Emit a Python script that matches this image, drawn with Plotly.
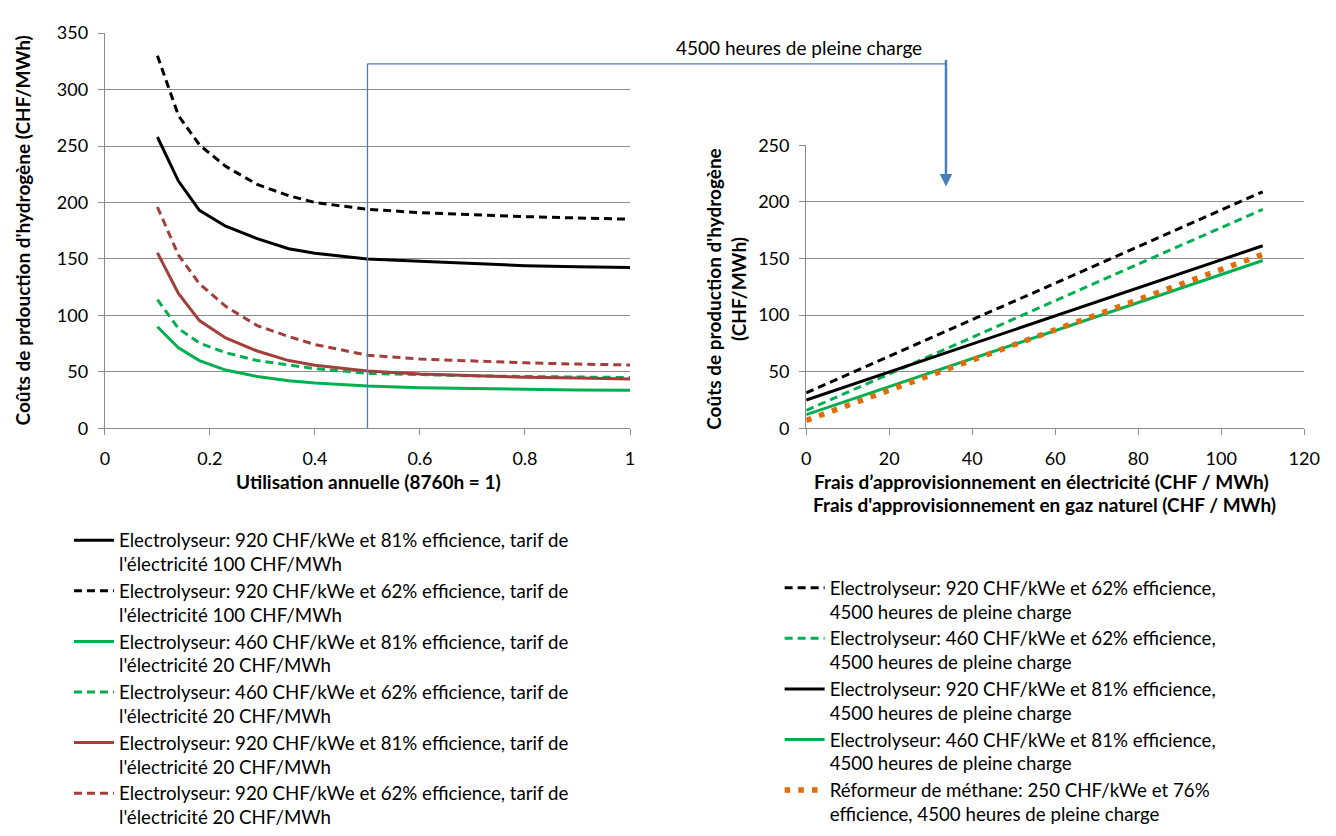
import plotly.graph_objects as go

# ---------------- data ----------------
# Left panel: annual utilisation (8760h = 1)
utilisation = [0.1, 0.14, 0.18, 0.23, 0.29, 0.35, 0.4, 0.5, 0.6, 0.7, 0.8, 0.9, 1.0]
el_920_81_100 = [258, 219, 193, 179, 168, 159, 155, 150, 148, 146, 144, 143, 142.5]
el_920_62_100 = [330, 277, 251, 232, 216, 206, 200, 194, 191, 189, 187.5, 186.3, 185.2]
el_460_81_20 = [90, 71.4, 60, 51.6, 46, 42.2, 40.2, 37.4, 36, 35.2, 34.6, 34, 33.7]
el_460_62_20 = [114, 88.4, 75.6, 67, 60, 55.8, 52.9, 48.7, 47.3, 46.5, 45.9, 45.3, 45]
el_920_81_20 = [155.5, 119.5, 95.4, 80, 68.5, 60, 55.8, 50.7, 48.2, 46.5, 45.3, 44.5, 43.6]
el_920_62_20 = [196, 153.5, 128, 108, 91, 81.3, 74.2, 64.8, 61.4, 59.5, 58, 56.9, 56.1]

left_names = [
    "Electrolyseur: 920 CHF/kWe et 81% efficience, tarif de<br>l'électricité 100 CHF/MWh",
    "Electrolyseur: 920 CHF/kWe et 62% efficience, tarif de<br>l'électricité 100 CHF/MWh",
    "Electrolyseur: 460 CHF/kWe et 81% efficience, tarif de<br>l'électricité 20 CHF/MWh",
    "Electrolyseur: 460 CHF/kWe et 62% efficience, tarif de<br>l'électricité 20 CHF/MWh",
    "Electrolyseur: 920 CHF/kWe et 81% efficience, tarif de<br>l'électricité 20 CHF/MWh",
    "Electrolyseur: 920 CHF/kWe et 62% efficience, tarif de<br>l'électricité 20 CHF/MWh",
]

# Right panel: supply cost (CHF / MWh)
supply_cost = [0, 110]
r_920_62 = [31.4, 209]
r_460_62 = [15.8, 193.5]
r_920_81 = [25, 161.3]
r_460_81 = [12.1, 148.3]
smr_250_76 = [7, 153.7]

right_names = [
    "Electrolyseur: 920 CHF/kWe et 62% efficience,<br>4500 heures de pleine charge",
    "Electrolyseur: 460 CHF/kWe et 62% efficience,<br>4500 heures de pleine charge",
    "Electrolyseur: 920 CHF/kWe et 81% efficience,<br>4500 heures de pleine charge",
    "Electrolyseur: 460 CHF/kWe et 81% efficience,<br>4500 heures de pleine charge",
    "Réformeur de méthane: 250 CHF/kWe et 76%<br>efficience, 4500 heures de pleine charge",
]

left_xticks = [0, 0.2, 0.4, 0.6, 0.8, 1]
left_xticktext = ["0", "0.2", "0.4", "0.6", "0.8", "1"]
marker_utilisation = 0.5

# ---------------- styling ----------------
W, H = 1336, 836
FONT = "Lato"
BLACK = "#000000"
GREEN = "#00B050"
RED = "#A23F3B"
ORANGE = "#E36C0A"
BLUE = "#4A7EBB"
GRID = "#8C8C8C"
DASH = "8px,5px"
LW = 3


def px_x(p):
    return p / W


def px_y(p):
    return 1 - p / H


def leg(t):
    return '<span style="font-size:18.7px">' + t + "</span>"


fig = go.Figure()

left_series = [
    (el_920_81_100, BLACK, "solid"),
    (el_920_62_100, BLACK, DASH),
    (el_460_81_20, GREEN, "solid"),
    (el_460_62_20, GREEN, DASH),
    (el_920_81_20, RED, "solid"),
    (el_920_62_20, RED, DASH),
]
for (vals, col, dash), name in zip(left_series, left_names):
    fig.add_trace(go.Scatter(
        x=utilisation, y=vals, mode="lines", name=leg(name),
        line=dict(color=col, width=LW, dash=dash),
        xaxis="x", yaxis="y", legend="legend",
    ))

right_series = [
    (r_920_62, BLACK, DASH, LW),
    (r_460_62, GREEN, DASH, LW),
    (r_920_81, BLACK, "solid", LW),
    (r_460_81, GREEN, "solid", LW),
    (smr_250_76, ORANGE, "5.5px,8.2px", 5.5),
]
for (vals, col, dash, w), name in zip(right_series, right_names):
    fig.add_trace(go.Scatter(
        x=supply_cost, y=vals, mode="lines", name=leg(name),
        line=dict(color=col, width=w, dash=dash),
        xaxis="x2", yaxis="y2", legend="legend2",
    ))

L_X0, L_X1 = 101.5, 635
R_X0, R_X1 = 814, 1320
Y_BOT, L_YTOP, R_YTOP = 434, 22, 139

axis_common = dict(
    showline=True, linecolor=GRID, linewidth=1.3,
    ticks="outside", ticklen=6, tickcolor=GRID, tickwidth=1.3,
    tickfont=dict(family=FONT, size=18, color=BLACK),
    zeroline=False, fixedrange=True,
)

fig.update_layout(
    width=W, height=H,
    margin=dict(l=0, r=0, t=0, b=0),
    paper_bgcolor="white", plot_bgcolor="white",
    font=dict(family=FONT, color=BLACK),
    xaxis=dict(domain=[px_x(L_X0), px_x(L_X1)], range=[0, 1],
               tickvals=left_xticks, ticktext=left_xticktext,
               showgrid=False, anchor="y", ticklabelstandoff=8, **axis_common),
    yaxis=dict(domain=[px_y(Y_BOT), px_y(L_YTOP)], range=[0, 350], dtick=50,
               showgrid=True, gridcolor=GRID, gridwidth=1.3, anchor="x",
               ticklabelstandoff=6, **axis_common),
    xaxis2=dict(domain=[px_x(R_X0), px_x(R_X1)], range=[0, 120], dtick=20,
                showgrid=False, anchor="y2", ticklabelstandoff=8, **axis_common),
    yaxis2=dict(domain=[px_y(Y_BOT), px_y(R_YTOP)], range=[0, 250], dtick=50,
                showgrid=True, gridcolor=GRID, gridwidth=1.3, anchor="x2",
                ticklabelstandoff=6, **axis_common),
    legend=dict(x=px_x(65), y=px_y(531.5), xanchor="left", yanchor="top",
                font=dict(family=FONT, size=18.3, color=BLACK),
                itemwidth=40, valign="top", traceorder="normal",
                bgcolor="rgba(0,0,0,0)"),
    legend2=dict(x=px_x(787), y=px_y(581), xanchor="left", yanchor="top",
                 font=dict(family=FONT, size=18.3, color=BLACK),
                 itemwidth=40, valign="top", traceorder="normal",
                 bgcolor="rgba(0,0,0,0)"),
    showlegend=True,
)

title_font = dict(family=FONT, size=19, color=BLACK, weight="bold")
ann = [
    dict(text="Coûts de prdouction d'hydrogène (CHF/MWh)", x=px_x(18), y=px_y(228),
         textangle=-90, font=title_font),
    dict(text="Coûts de production d'hydrogène<br>(CHF/MWh)", x=px_x(733), y=px_y(288),
         textangle=-90, font=title_font),
    dict(text="Utilisation annuelle (8760h = 1)", x=px_x(369), y=px_y(489), font=title_font),
    dict(text="Frais d’approvisionnement en électricité (CHF / MWh)", x=px_x(1053), y=px_y(489),
         font=title_font),
    dict(text="Frais d'approvisionnement en gaz naturel (CHF / MWh)", x=px_x(1056), y=px_y(513),
         font=title_font),
    dict(text="4500 heures de pleine charge", x=px_x(807), y=px_y(37),
         font=dict(family=FONT, size=19, color=BLACK)),
]
for a in ann:
    fig.add_annotation(xref="paper", yref="paper", showarrow=False,
                       xanchor="center", yanchor="middle", **a)

# arrow to the right panel
fig.add_annotation(xref="paper", yref="paper", x=px_x(956), y=px_y(182), text="",
                   showarrow=True, ax=0, ay=-128, arrowhead=2, arrowsize=1,
                   arrowwidth=2.5, arrowcolor=BLUE)

# connector: vertical line at utilisation 0.5, then horizontal to the arrow
x_mark_paper = px_x(L_X0) + marker_utilisation * (px_x(L_X1) - px_x(L_X0))
fig.add_shape(type="line", xref="x", yref="paper", x0=marker_utilisation, x1=marker_utilisation,
              y0=px_y(Y_BOT), y1=px_y(54), line=dict(color=BLUE, width=1.3), layer="above")
fig.add_shape(type="line", xref="paper", yref="paper", x0=x_mark_paper, x1=px_x(956),
              y0=px_y(54), y1=px_y(54), line=dict(color=BLUE, width=1.3), layer="above")

fig.write_html("out.html")
